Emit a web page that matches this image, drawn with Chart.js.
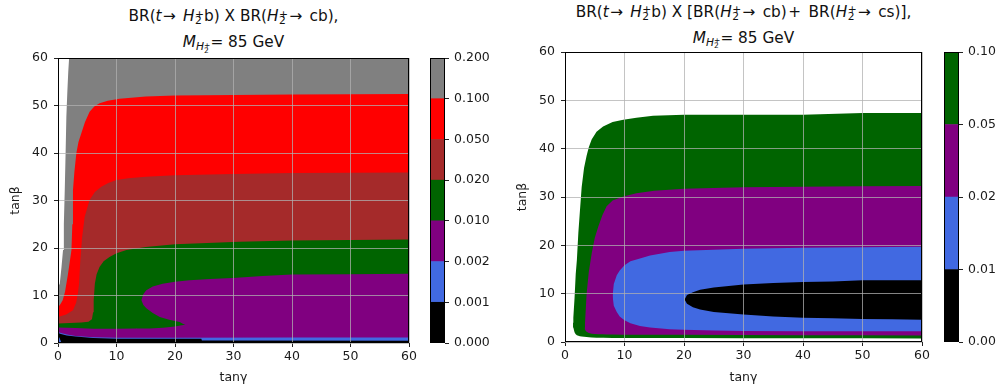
<!DOCTYPE html>
<html>
<head>
<meta charset="utf-8">
<script src="https://cdn.jsdelivr.net/npm/chart.js@4.4.1/dist/chart.umd.min.js"></script>
<style>
  html, body { margin: 0; padding: 0; background: #fff; }
  body { width: 1004px; height: 392px; position: relative; overflow: hidden; font-family: 'DejaVu Sans', sans-serif; }
  canvas { position: absolute; top: 0; }
  .ttl { position: absolute; text-align: center; font-size: 15.3px; color: #111; white-space: nowrap; }
  .ttl .ln { height: 26px; line-height: 26px; }
  .ttl i { font-style: italic; }
  .rel { margin: 0 2.4px 0 1.4px; }
  .bin { margin: 0 2.6px 0 1.6px; }
  .ss { display: inline-block; font-size: 10.7px; line-height: 1; vertical-align: -3px; text-align: left; margin-left: 0.5px; }
  .ss span { display: block; line-height: 6.5px; height: 6.5px; }
  .ms { font-size: 10.7px; vertical-align: -3px; }
  .ss2 { display: inline-block; font-size: 7.5px; line-height: 1; vertical-align: -2.5px; text-align: left; }
  .ss2 span { display: block; line-height: 5px; height: 5px; }
</style>
</head>
<body>
<div class="ttl" style="left:23.5px; top:3px; width:420px;">
  <div class="ln">BR(<i>t</i><span class="rel">→</span> <i>H</i><span class="ss"><span>+</span><span>2</span></span>b) X BR(<i>H</i><span class="ss"><span>+</span><span>2</span></span><span class="rel">→</span> cb),</div>
  <div class="ln"><i>M</i><span class="ms"><i>H</i><span class="ss2"><span>+</span><span>2</span></span></span>= 85 GeV</div>
</div>
<div class="ttl" style="left:493.5px; top:-1.5px; width:500px;">
  <div class="ln">BR(<i>t</i><span class="rel">→</span> <i>H</i><span class="ss"><span>+</span><span>2</span></span>b) X [BR(<i>H</i><span class="ss"><span>+</span><span>2</span></span><span class="rel">→</span> cb)<span class="bin">+</span> BR(<i>H</i><span class="ss"><span>+</span><span>2</span></span><span class="rel">→</span> cs)],</div>
  <div class="ln"><i>M</i><span class="ms"><i>H</i><span class="ss2"><span>+</span><span>2</span></span></span>= 85 GeV</div>
</div>

<canvas id="leftMain" width="420" height="392" style="left:0px"></canvas>
<canvas id="leftBar" width="80" height="392" style="left:420px"></canvas>
<canvas id="rightMain" width="432" height="392" style="left:500px"></canvas>
<canvas id="rightBar" width="72" height="392" style="left:932px"></canvas>

<script>
// ---- Left panel: BR(t -> H2+ b) x BR(H2+ -> cb) ----
// Level boundaries as [tanγ, tanβ] pairs; each band is filled down to tanβ = 0,
// painted from the highest band to the lowest.
const leftGrayEdge = [[0,11.8],[0.3,12.5],[0.6,16],[0.86,19.6],[1.0,25],[1.15,32],[1.3,40],[1.43,47.7],[1.6,53],[1.75,57],[1.9,60],[60,60]];
const leftRedEdge = [[0,7.7],[0.3,7.95],[0.8,9],[1.2,10.8],[1.43,12.5],[1.7,14.5],[2.0,17],[2.3,19.6],[2.45,25],[2.56,32.2],[2.8,36],[3.14,40],[3.5,42.3],[4,44.2],[4.6,46.5],[5.4,48.7],[6.2,49.8],[7.1,50.5],[8.5,51.0],[10.5,51.4],[15,51.9],[20,52.1],[30,52.2],[40,52.3],[60,52.4]];
const leftBrownEdge = [[0,5.5],[1.4,6.0],[2.56,6.9],[3.1,8.5],[3.4,10.5],[3.6,12.5],[3.8,17],[4.1,22],[4.56,26.6],[5.4,30.1],[6.3,31.8],[7.4,32.9],[8.6,33.7],[10,34.3],[12,34.7],[15,35.0],[20,35.3],[30,35.6],[40,35.8],[60,35.9]];
const leftGreenEdge = [[0,4.1],[2,4.2],[4,4.3],[5.2,4.5],[5.8,5.0],[6.0,6.5],[6.1,9],[6.3,12.5],[6.6,14.5],[7.1,16],[7.8,17.2],[8.8,18.1],[10,18.9],[11.7,19.6],[15,20.2],[20,20.8],[31,21.3],[40,21.6],[60,21.8]];
const leftPurpleEdge = [[0,3.25],[3,3.15],[6,3.0],[10,3.0],[13.5,3.05],[14.0,6.5],[14.25,9.0],[14.6,10.3],[15.1,11.1],[16.2,11.9],[17.9,12.5],[20,12.9],[22.5,13.2],[26,13.5],[29.9,13.7],[35,14.1],[40,14.4],[50,14.5],[60,14.6]];
const leftTongueEdge = [[13.5,9.0],[14.25,9.0],[14.6,8.0],[15.1,7.3],[16.2,6.3],[17.4,5.5],[19,4.9],[20.8,4.4],[21.4,4.0],[21.8,3.8]];
const leftBandEdge = [[13.4,3.05],[15.7,3.05],[18,3.2],[20,3.5],[21.4,3.8],[21.9,3.85]];
const leftBlueEdge = [[0,2.3],[0.5,2.1],[1.5,1.8],[3,1.5],[6,1.2],[10,1.12],[20,1.12],[40,1.15],[60,1.15]];
const leftBlackEdge = [[0,2.1],[0.5,1.9],[1.5,1.6],[3,1.35],[6,1.05],[10,0.92],[24.5,0.88],[24.6,0.55],[60,0.5]];
const leftCornerEdge = [[0,1.4],[0.25,1.1],[0.45,0.5],[0.55,0.2]];

const leftLevels = ['0.000', '0.001', '0.002', '0.010', '0.020', '0.050', '0.100', '0.200'];
const leftColors = ['black', 'royalblue', 'purple', 'darkgreen', 'brown', 'red', 'gray'];

// ---- Right panel: BR(t -> H2+ b) x [BR(H2+ -> cb) + BR(H2+ -> cs)] ----
// Closed bands given by shared tanγ samples with upper and lower tanβ edges.
const rightGreenX   = [1.35,1.4,1.6,1.8,2.0,2.24,2.5,2.8,3.2,3.64,4.0,4.48,5.3,6.4,8,9.8,12,14.8,20,30,40,50,60];
const rightGreenTop = [4,5,9,14,17,22.5,27,32,36,38.6,40.3,41.9,43.5,44.6,45.5,46.0,46.4,46.8,47.0,47.0,47.0,47.4,47.4];
const rightGreenBot = [4,3,2.0,1.6,1.4,1.3,1.2,1.15,1.1,1.05,1.0,0.95,0.9,0.88,0.85,0.85,0.85,0.85,0.82,0.8,0.78,0.76,0.75];

const rightPurpleX   = [3.3,3.36,3.5,3.64,4.0,4.5,5.0,5.6,6.3,7.0,8.0,9.8,12,15,20,30,40,50,60];
const rightPurpleTop = [3.0,3.9,7,10.1,14.5,18.4,21.5,23.9,26.3,28.1,29.3,30.1,30.8,31.3,31.7,32.0,32.1,32.2,32.3];
const rightPurpleBot = [3.0,2.6,2.3,2.1,1.85,1.7,1.65,1.6,1.58,1.55,1.55,1.52,1.5,1.5,1.48,1.45,1.42,1.4,1.37];

const rightBlueX   = [8.0,8.2,8.7,9.2,10,11,12.6,14.3,17.6,20,25,30,40,50,60];
const rightBlueTop = [9.5,12.0,13.8,14.8,15.9,16.7,17.3,17.9,18.6,18.9,19.1,19.3,19.5,19.6,19.7];
const rightBlueBot = [9.5,7.5,6.2,5.3,4.5,3.9,3.3,3.0,2.65,2.55,2.4,2.3,2.25,2.2,2.2];

const rightBlackX   = [20.1,20.5,21.5,22.7,25,30,35,40,45,50,55,60];
const rightBlackTop = [8.8,9.7,10.3,10.8,11.3,11.9,12.2,12.4,12.5,12.8,12.8,12.8];
const rightBlackBot = [8.8,7.9,7.2,6.7,6.2,5.7,5.3,5.0,4.9,4.75,4.7,4.6];

const rightLevels = ['0.00', '0.01', '0.02', '0.05', '0.10'];
const rightColors = ['black', 'royalblue', 'purple', 'darkgreen'];

const axisTicks = [0, 10, 20, 30, 40, 50, 60];

// ---- shared styling ----
const FONT = { family: 'DejaVu Sans', size: 12.5 };
const TEXT = '#1a1a1a';
const GRID = 'rgba(176,176,176,0.75)';

const framePlugin = {
  id: 'frame',
  afterDraw(chart) {
    const { ctx, chartArea: a } = chart;
    ctx.save();
    ctx.strokeStyle = '#000';
    ctx.lineWidth = 1;
    ctx.strokeRect(Math.round(a.left) + 0.5, Math.round(a.top) + 0.5,
                   Math.round(a.right - a.left) - 1, Math.round(a.bottom - a.top) - 1);
    ctx.restore();
  }
};

function toPoints(pairs) { return pairs.map(([x, y]) => ({ x, y })); }
function zip(xs, ys) { return xs.map((x, i) => ({ x, y: ys[i] })); }

function areaDataset(data, color, fill, order) {
  return {
    data, fill, order,
    backgroundColor: color,
    borderColor: 'transparent',
    borderWidth: 0,
    pointRadius: 0,
    pointHoverRadius: 0,
    tension: 0
  };
}

function mainScales(yWidth, xHeight, yTitlePad) {
  const common = {
    type: 'linear', min: 0, max: 60, z: 1,
    afterBuildTicks(s) { s.ticks = axisTicks.map(v => ({ value: v })); },
    grid: { z: 1, color: GRID, lineWidth: 1, tickLength: 4, tickColor: '#222', drawTicks: true },
    border: { display: false }
  };
  return {
    x: {
      ...common,
      position: 'bottom',
      ticks: { font: FONT, color: TEXT, padding: 2, maxRotation: 0, autoSkip: false },
      title: { display: true, text: 'tanγ', font: FONT, color: TEXT, padding: { top: 0, bottom: 6.5 } },
      afterFit(s) { s.height = xHeight; }
    },
    y: {
      ...common,
      position: 'left',
      ticks: { font: FONT, color: TEXT, padding: 6, autoSkip: false },
      title: { display: true, text: 'tanβ', font: FONT, color: TEXT, padding: { top: yTitlePad, bottom: 0 } },
      afterFit(s) { s.width = yWidth; }
    }
  };
}

function baseOptions(padding, scales) {
  return {
    responsive: false,
    animation: false,
    events: [],
    devicePixelRatio: 1,
    layout: { padding },
    plugins: { legend: { display: false }, tooltip: { enabled: false }, title: { display: false } },
    scales
  };
}

// ---- left contour panel ----
const leftLayers = [
  [leftGrayEdge, 'gray'],
  [leftRedEdge, 'red'],
  [leftBrownEdge, 'brown'],
  [leftGreenEdge, 'darkgreen'],
  [leftPurpleEdge, 'purple'],
  [leftTongueEdge, 'darkgreen'],
  [leftBandEdge, 'purple'],
  [leftBlueEdge, 'royalblue'],
  [leftBlackEdge, 'black'],
  [leftCornerEdge, 'royalblue']
];
new Chart(document.getElementById('leftMain'), {
  type: 'line',
  data: {
    datasets: leftLayers.map(([edge, color], i) =>
      areaDataset(toPoints(edge), color, 'origin', leftLayers.length - i))
  },
  options: baseOptions({ left: 0, top: 58, right: 11, bottom: 0 }, mainScales(58, 49, 8)),
  plugins: [framePlugin]
});

// ---- right contour panel ----
const rightShapes = [
  [rightGreenX, rightGreenTop, rightGreenBot, 'darkgreen'],
  [rightPurpleX, rightPurpleTop, rightPurpleBot, 'purple'],
  [rightBlueX, rightBlueTop, rightBlueBot, 'royalblue'],
  [rightBlackX, rightBlackTop, rightBlackBot, 'black']
];
const rightDatasets = [];
rightShapes.forEach(([xs, top, bot, color], k) => {
  const order = rightShapes.length - k;
  rightDatasets.push(areaDataset(zip(xs, top), color, 2 * k + 1, order));
  rightDatasets.push(areaDataset(zip(xs, bot), color, false, order));
});
new Chart(document.getElementById('rightMain'), {
  type: 'line',
  data: { datasets: rightDatasets },
  options: baseOptions({ left: 0, top: 52, right: 10, bottom: 0 }, mainScales(65, 50, 15)),
  plugins: [framePlugin]
});

// ---- colour bars ----
function colorBar(id, levels, colors, padding, axisWidth) {
  new Chart(document.getElementById(id), {
    type: 'bar',
    data: {
      labels: [''],
      datasets: colors.map(c => ({
        data: [1], backgroundColor: c, borderWidth: 0,
        barPercentage: 1, categoryPercentage: 1
      }))
    },
    options: baseOptions(padding, {
      x: { display: false, stacked: true },
      y: {
        position: 'right', stacked: true, min: 0, max: colors.length,
        ticks: { stepSize: 1, font: FONT, color: TEXT, padding: 5, callback: v => levels[Math.round(v)] },
        grid: { drawOnChartArea: false, tickLength: 4, tickColor: '#222' },
        border: { display: false },
        afterFit(s) { s.width = axisWidth; }
      }
    }),
    plugins: [framePlugin]
  });
}
colorBar('leftBar', leftLevels, leftColors, { left: 10, top: 58, right: 0, bottom: 49 }, 55);
colorBar('rightBar', rightLevels, rightColors, { left: 12, top: 52, right: 0, bottom: 50 }, 45);
</script>
</body>
</html>
